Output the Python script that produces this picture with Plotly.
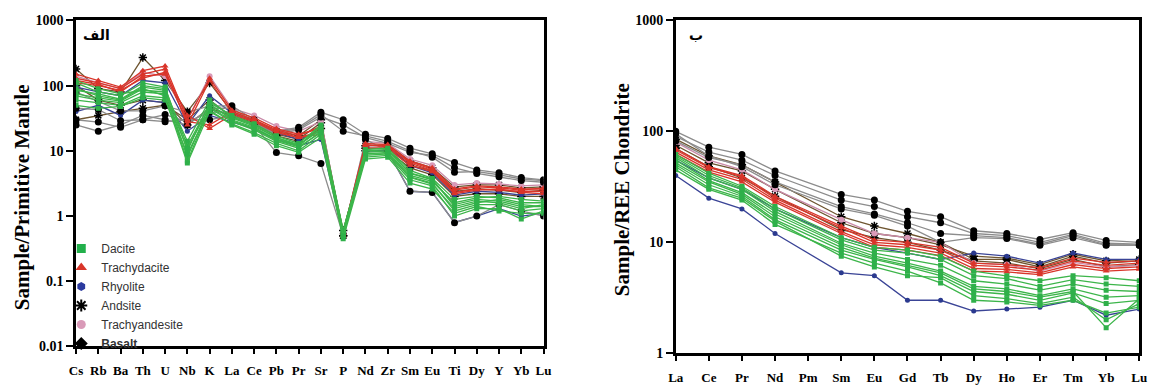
import plotly.graph_objects as go

# ---- element order -------------------------------------------------------
PM_ELEMENTS = ["Cs", "Rb", "Ba", "Th", "U", "Nb", "K", "La", "Ce", "Pb", "Pr",
               "Sr", "P", "Nd", "Zr", "Sm", "Eu", "Ti", "Dy", "Y", "Yb", "Lu"]
REE_ELEMENTS = ["La", "Ce", "Pr", "Nd", "Pm", "Sm", "Eu", "Gd", "Tb", "Dy",
                "Ho", "Er", "Tm", "Yb", "Lu"]

# ---- primitive-mantle normalised spider data ------------------------------
dacite_pm = [
    [90, 70, 60, 95, 85, 8, 50, 32, 24, 16, 12, 22, 0.55, 9.5, 10, 4.5, 3.6, 1.5, 1.8, 1.7, 1.4, 1.4],
    [70, 60, 55, 80, 75, 7, 45, 28, 21, 14, 11, 20, 0.5, 8.5, 9, 4.0, 3.2, 1.2, 1.5, 1.5, 1.2, 1.3],
    [110, 80, 70, 110, 95, 10, 55, 35, 26, 17, 13, 25, 0.6, 10.5, 11, 5.0, 3.8, 1.8, 2.0, 1.9, 1.6, 1.6],
    [60, 55, 50, 70, 65, 6.5, 40, 26, 19, 13, 10, 18, 0.5, 8, 8.5, 3.6, 2.9, 1.0, 1.3, 1.3, 0.9, 1.2],
    [85, 75, 62, 100, 90, 12, 52, 30, 23, 15, 12, 24, 0.55, 9, 9.5, 4.2, 3.4, 1.6, 1.9, 2.0, 1.8, 1.7],
    [50, 45, 48, 65, 60, 9, 42, 25, 18, 12, 9.5, 16, 0.45, 7.5, 8, 3.2, 2.6, 1.1, 1.4, 1.2, 1.1, 1.1],
    [120, 90, 75, 85, 80, 14, 60, 33, 25, 16, 12.5, 21, 0.6, 10, 10.5, 4.6, 3.7, 1.4, 1.7, 1.6, 1.3, 1.5],
    [75, 65, 58, 90, 70, 11, 47, 29, 22, 14.5, 11.5, 19, 0.5, 9, 9, 3.9, 3.1, 1.3, 1.6, 1.8, 1.5, 1.4],
]
trachydacite_pm = [
    [150, 120, 95, 170, 200, 30, 130, 42, 32, 22, 18, 22, 0.55, 13, 12.5, 7, 5.5, 2.6, 2.9, 2.8, 2.6, 2.6],
    [130, 110, 90, 150, 180, 25, 120, 38, 29, 20, 16, 20, 0.5, 12, 12, 6.5, 5, 2.3, 2.6, 2.5, 2.4, 2.4],
    [110, 100, 85, 130, 160, 35, 22, 36, 28, 19, 16, 18, 0.5, 11, 11, 6, 4.8, 2.2, 2.5, 2.6, 2.3, 2.2],
    [120, 105, 80, 140, 150, 28, 25, 40, 30, 21, 17, 24, 0.55, 12.5, 11.5, 6.8, 5.2, 2.5, 2.8, 2.7, 2.5, 2.7],
]
rhyolite_pm = [
    [40, 50, 35, 60, 55, 20, 35, 28, 22, 15, 12, 15, 0.5, 10, 10, 2.4, 2.3, 0.8, 1.0, 1.3, 1.0, 1.1],
    [95, 80, 70, 120, 110, 25, 70, 38, 28, 19, 15, 20, 0.55, 12, 12, 6, 4.6, 2.1, 2.4, 2.3, 2.1, 2.2],
]
andesite_pm = [
    [180, 90, 80, 270, 120, 40, 110, 40, 30, 20, 17, 30, 0.5, 12, 12.5, 7, 5.5, 2.8, 3, 3, 2.7, 2.8],
    [100, 60, 50, 60, 55, 25, 45, 35, 27, 18, 15, 27, 0.5, 11, 11, 6, 5, 2.4, 2.6, 2.5, 2.3, 2.5],
    [30, 35, 40, 45, 50, 30, 60, 33, 26, 17, 14, 22, 0.6, 10, 10, 5.5, 4.3, 2, 2.2, 2.2, 2, 2],
]
trachyandesite_pm = [
    [140, 110, 90, 160, 140, 30, 140, 45, 35, 24, 20, 28, 0.55, 14, 13, 7.5, 6, 3, 3.2, 3.1, 2.9, 3.0],
]
basalt_pm = [
    [80, 58, 41, 41, 49, 39, 49, 49, 30, 20, 23, 39, 30, 18, 15.5, 11, 9, 6.6, 5.1, 4.6, 3.9, 3.6],
    [45, 43, 29, 30, 36, 28, 39, 40, 27, 18, 21, 33, 25, 16, 13, 9.5, 8.5, 5.5, 4.5, 4, 3.5, 3.3],
    [30, 27.6, 23, 30, 28, 30, 30, 35, 25, 9.4, 8.4, 6.4, 0.5, 15, 10, 2.4, 2.3, 0.79, 1.0, 1.5, 1.2, 1.0],
    [25, 20, 25, 35, 30, 25, 45, 45, 28, 19, 22, 36, 20, 17, 14, 10, 8, 4.7, 4.8, 4.3, 3.7, 3.5],
]

# ---- chondrite normalised REE data (Pm not analysed) -----------------------
dacite_ree = [
    [55, 36, 28, 18, None, 9.5, 7.5, 6.5, 5.5, 4.0, 3.8, 3.3, 3.8, 3.2, 3.3],
    [50, 33, 26, 16, None, 8.5, 7, 6, 5, 3.6, 3.4, 3.0, 3.5, 2.8, 3.0],
    [60, 40, 31, 20, None, 10.5, 8.5, 8, 7, 5, 4.7, 4.0, 4.6, 4.2, 4.0],
    [45, 30, 24, 14.5, None, 8, 6.5, 5.5, 4.3, 3.0, 2.9, 2.7, 3.0, 2.3, 2.6],
    [58, 38, 30, 19, None, 9.8, 8, 7, 6.2, 4.5, 4.2, 3.7, 4.2, 3.7, 3.6],
    [48, 31, 25, 15.5, None, 7.5, 6, 5, 4.8, 3.3, 3.1, 2.8, 3.2, 2.0, 2.8],
    [62, 42, 32, 21, None, 11, 9, 8.5, 7.5, 5.5, 5, 4.5, 5, 4.8, 4.5],
    [52, 35, 27, 17, None, 9, 7.2, 6.2, 5.3, 3.8, 3.6, 3.2, 3.6, 1.7, 3.1],
]
trachydacite_ree = [
    [68, 47, 39, 25, None, 13.5, 10, 9.5, 8.5, 6.2, 6, 5.6, 6.8, 6.2, 6.5],
    [65, 45, 37, 24, None, 12.5, 9.5, 9, 8, 5.8, 5.7, 5.3, 6.3, 5.8, 6],
    [70, 48, 40, 26, None, 14, 10.5, 10, 9, 6.5, 6.3, 5.9, 7.2, 6.6, 6.8],
    [62, 43, 35, 23, None, 12, 9, 8.5, 7.6, 5.5, 5.4, 5.1, 6, 5.5, 5.7],
]
rhyolite_ree = [
    [40, 25, 20, 12, None, 5.3, 5, 3, 3, 2.4, 2.5, 2.6, 3.0, 2.2, 2.5],
    [55, 38, 30, 20, None, 11, 9, 8, 7, 8, 7.5, 6.5, 8, 7, 7],
]
andesite_ree = [
    [85, 60, 50, 35, None, 17, 14, 12, 10, 7, 7, 6, 7.5, 6.5, 6.8],
    [75, 52, 44, 30, None, 15, 12, 11, 9.5, 7.5, 7.2, 6.3, 7.8, 6.8, 7],
    [70, 48, 38, 26, None, 13, 11, 10, 8.5, 6.8, 6.5, 5.8, 7, 6, 6.3],
]
trachyandesite_ree = [
    [80, 55, 45, 30, None, 16, 12, 11, 10, 6.5, 6.3, 5.5, 6.6, 6, 6.2],
]
basalt_ree = [
    [100, 72, 62, 44, None, 27, 24, 19, 17, 12.7, 12, 10.6, 12.2, 10.4, 10],
    [90, 65, 55, 40, None, 24, 21, 17, 15, 12, 11.5, 10, 11.8, 9.8, 9.6],
    [82, 58, 50, 35, None, 21, 18, 15, 12, 11.5, 11, 9.6, 11.5, 9.5, 9.4],
    [95, 60, 48, 33, None, 20, 17.5, 14, 10, 11, 10.8, 9.4, 11, 9.4, 9.4],
]

# ---- rock-type styling: (name, pm data, ree data, line colour, marker) ---------
groups = [
    ("Andsite", andesite_pm, andesite_ree, "#6e5530",
     dict(symbol="asterisk-open", size=7, color="black", line=dict(color="black", width=1.5))),
    ("Rhyolite", rhyolite_pm, rhyolite_ree, "#3a4496",
     dict(symbol="circle", size=5, color="#2b3a8f")),
    ("Trachyandesite", trachyandesite_pm, trachyandesite_ree, "#c98aa8",
     dict(symbol="circle", size=6, color="#d99ab8")),
    ("Basalt", basalt_pm, basalt_ree, "#8c8c8c",
     dict(symbol="circle", size=7, color="black")),
    ("Trachydacite", trachydacite_pm, trachydacite_ree, "#d9352a",
     dict(symbol="triangle-up", size=6, color="#d9352a")),
    ("Dacite", dacite_pm, dacite_ree, "#3cb54a",
     dict(symbol="square", size=5, color="#2fb04a")),
]

legend_items = [
    ("Dacite", dict(symbol="square", size=9, color="#22b04b")),
    ("Trachydacite", dict(symbol="triangle-up", size=10, color="#d9352a")),
    ("Rhyolite", dict(symbol="hexagon", size=9, color="#2b3a9f")),
    ("Andsite", dict(symbol="asterisk-open", size=10, color="black",
                     line=dict(color="black", width=2))),
    ("Trachyandesite", dict(symbol="circle", size=9, color="#d99ab8")),
    ("<b>Basalt</b>", dict(symbol="diamond", size=10, color="black")),
]

fig = go.Figure()

for name, pm_data, ree_data, lc, mk in groups:
    for sample in pm_data:
        fig.add_trace(go.Scatter(
            x=PM_ELEMENTS, y=sample, mode="lines+markers",
            line=dict(color=lc, width=1.3), marker=mk,
            xaxis="x", yaxis="y", showlegend=False, hoverinfo="skip"))
    for sample in ree_data:
        fig.add_trace(go.Scatter(
            x=REE_ELEMENTS, y=sample, mode="lines+markers", connectgaps=True,
            line=dict(color=lc, width=1.3), marker=mk,
            xaxis="x2", yaxis="y2", showlegend=False, hoverinfo="skip"))

for name, mk in legend_items:
    fig.add_trace(go.Scatter(x=[None], y=[None], mode="markers", name=name,
                             marker=mk, xaxis="x", yaxis="y"))


def minor_log_ticks(lo_exp, hi_exp):
    """Tick positions at 2..9 × 10^k for each decade of a log axis."""
    return [m * 10.0 ** e for e in range(lo_exp, hi_exp) for m in range(2, 10)]


serif_bold = dict(family="Liberation Serif", size=13, color="black", weight="bold")

x_common = dict(type="category", showline=True, linewidth=2.5, linecolor="black",
                mirror=True, ticks="outside", ticklen=5, tickwidth=2,
                tickcolor="black", showgrid=False, zeroline=False,
                tickfont=serif_bold, ticklabelstandoff=5)
y_common = dict(type="log", showline=True, linewidth=2.5, linecolor="black",
                mirror=True, ticks="outside", ticklen=7, tickwidth=2,
                tickcolor="black", showgrid=False, zeroline=False,
                tickmode="linear", dtick=1, exponentformat="none",
                tickfont=dict(serif_bold, size=14))
# tick-only companion axes carrying the 2..9 minor ticks of each decade
minor_common = dict(type="log", side="left", showline=False, showgrid=False,
                    zeroline=False, showticklabels=False, ticks="outside",
                    ticklen=4, tickwidth=1.5, tickcolor="black", tickmode="array")

fig.update_layout(
    width=1166, height=391,
    margin=dict(l=0, r=0, t=0, b=0),
    paper_bgcolor="white", plot_bgcolor="white",
    xaxis=dict(x_common, domain=[69 / 1166, 543 / 1166], range=[0, 21],
               anchor="y", categoryorder="array", categoryarray=PM_ELEMENTS),
    yaxis=dict(y_common, domain=[38 / 391, 377 / 391], range=[-2, 3], anchor="x"),
    yaxis3=dict(minor_common, overlaying="y", anchor="x", range=[-2, 3],
                tickvals=minor_log_ticks(-2, 3)),
    xaxis2=dict(x_common, domain=[677 / 1166, 1147 / 1166], range=[0, 14],
                anchor="y2", categoryorder="array", categoryarray=REE_ELEMENTS),
    yaxis2=dict(y_common, domain=[31 / 391, 377 / 391], range=[0, 3], anchor="x2"),
    yaxis4=dict(minor_common, overlaying="y2", anchor="x2", range=[0, 3],
                tickvals=minor_log_ticks(0, 3)),
    legend=dict(x=54 / 1166, y=1 - 236 / 391, xanchor="left", yanchor="top",
                bgcolor="rgba(0,0,0,0)", tracegroupgap=0,
                font=dict(family="Liberation Sans", size=12, color="#333333")),
    annotations=[
        dict(text="<b>Sample/Primitive Mantle</b>", textangle=-90,
             x=15 / 1166, y=1 - 198 / 391, xref="paper", yref="paper",
             xanchor="center", yanchor="middle", showarrow=False,
             font=dict(family="Liberation Serif", size=21, color="black")),
        dict(text="<b>Sample/REE Chondrite</b>", textangle=-90,
             x=622 / 1166, y=1 - 190 / 391, xref="paper", yref="paper",
             xanchor="center", yanchor="middle", showarrow=False,
             font=dict(family="Liberation Serif", size=21, color="black")),
        dict(text="<b>الف</b>", x=74 / 1166, y=1 - 29 / 391, xref="paper", yref="paper",
             xanchor="left", yanchor="middle", showarrow=False,
             font=dict(family="DejaVu Sans", size=14, color="black")),
        dict(text="<b>ب</b>", x=688 / 1166, y=1 - 29 / 391, xref="paper", yref="paper",
             xanchor="left", yanchor="middle", showarrow=False,
             font=dict(family="DejaVu Sans", size=14, color="black")),
    ],
)

fig.write_html("out.html")
